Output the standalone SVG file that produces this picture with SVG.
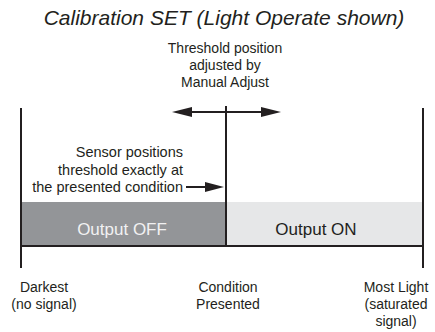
<svg xmlns="http://www.w3.org/2000/svg" width="435" height="332" viewBox="0 0 435 332">
<style>
text{font-family:"Liberation Sans",Arial,sans-serif;fill:#231f20}
.t{font-size:14px}
.s{font-size:14.5px}
.ln{stroke:#231f20;stroke-width:2;fill:none}
.ah{fill:#231f20}
</style>
<rect width="435" height="332" fill="#fff"/>
<text x="224" y="25" font-size="21" font-style="italic" text-anchor="middle">Calibration SET (Light Operate shown)</text>
<g id="bar">
<rect id="off" x="21" y="202" width="205" height="44" fill="#939598"/>
<rect id="on" x="226" y="202" width="197" height="44" fill="#e6e7e8"/>
<text x="122" y="235" font-size="17" text-anchor="middle" style="fill:#f1f1f2">Output OFF</text>
<text x="316" y="235" font-size="17" text-anchor="middle">Output ON</text>
</g>
<g id="connectors">
<line class="ln" x1="21" y1="108" x2="21" y2="268"/>
<line class="ln" x1="423" y1="108" x2="423" y2="268"/>
<line class="ln" x1="226" y1="106" x2="226" y2="246"/>
<line class="ln" x1="21" y1="246" x2="423" y2="246"/>
<line class="ln" x1="188" y1="112" x2="264" y2="112"/>
<polygon class="ah" points="172,112 192,107 192,117"/>
<polygon class="ah" points="281,112 261,107 261,117"/>
<line class="ln" x1="186" y1="187" x2="208" y2="187"/>
<polygon class="ah" points="224,187 205,182 205,192"/>
</g>
<g id="threshold">
<text class="t" x="225" y="53" text-anchor="middle">Threshold position</text>
<text class="t" x="225" y="70" text-anchor="middle">adjusted by</text>
<text class="t" x="225" y="87" text-anchor="middle">Manual Adjust</text>
</g>
<g id="sensor">
<text class="s" x="183" y="157" text-anchor="end">Sensor positions</text>
<text class="s" x="183" y="175" text-anchor="end">threshold exactly at</text>
<text class="s" x="183" y="192" text-anchor="end">the presented condition</text>
</g>
<g id="darkest">
<text class="t" x="44" y="292" text-anchor="middle">Darkest</text>
<text class="t" x="44" y="309" text-anchor="middle">(no signal)</text>
</g>
<g id="condition">
<text class="t" x="228" y="292" text-anchor="middle">Condition</text>
<text class="t" x="228" y="309" text-anchor="middle">Presented</text>
</g>
<g id="mostlight">
<text class="t" x="396" y="292" text-anchor="middle">Most Light</text>
<text class="t" x="396" y="309" text-anchor="middle">(saturated</text>
<text class="t" x="396" y="326" text-anchor="middle">signal)</text>
</g>
</svg>
